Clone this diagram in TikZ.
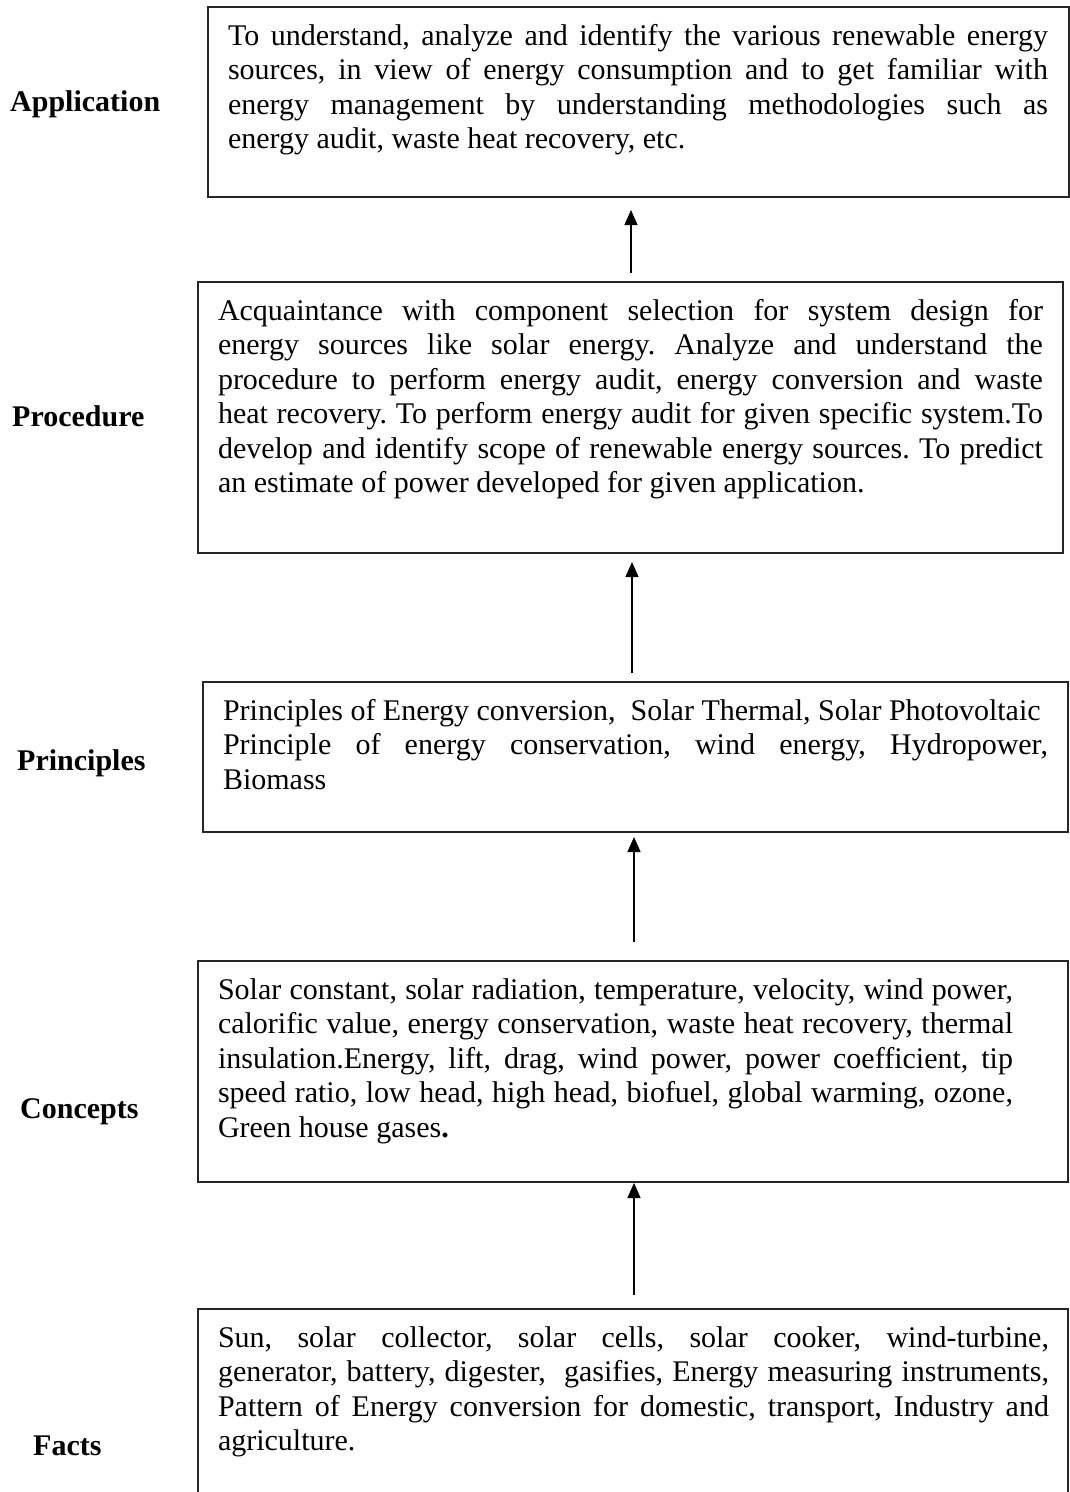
\documentclass[tikz,border=0pt]{standalone}
\usepackage{fontspec}
\setmainfont{Liberation Serif}
\usetikzlibrary{arrows.meta}
\frenchspacing
\newcommand{\fullln}[2]{\hbox to #1{#2}}
\newcommand{\lastln}[2]{\hbox to #1{#2\hfil}}
\begin{document}
\begin{tikzpicture}[x=1pt,y=-1pt,
  box/.style={draw=black!85, line width=1.6pt, inner sep=0pt, outer sep=0pt, anchor=north west},
  body/.style={inner sep=0pt, outer sep=0pt, anchor=base west, font=\fontsize{30}{34.5}\selectfont},
  lbl/.style={inner sep=0pt, anchor=base west, font=\fontsize{30}{34.5}\selectfont\bfseries},
  up/.style={line width=1.4pt, -{Triangle[length=15pt,width=13pt]}}]
\clip (0,0) rectangle (1070,1492);
\fill[white] (0,0) rectangle (1070,1492);

% boxes
\node[box, minimum width=861pt, minimum height=190pt] (app) at (208,7) {};
\node[box, minimum width=865pt, minimum height=271pt] (proc) at (198,282) {};
\node[box, minimum width=865pt, minimum height=150pt] (prin) at (203,682) {};
\node[box, minimum width=870pt, minimum height=221pt] (conc) at (198,961) {};
\node[box, minimum width=870pt, minimum height=260pt] (facts) at (198,1309) {};

% texts
\node[body] (appt) at ([xshift=20pt,yshift=-38pt]app.north west) {\vtop{\baselineskip=34.5pt
\fullln{820pt}{To understand, analyze and identify the various renewable energy}
\fullln{820pt}{sources, in view of energy consumption and to get familiar with}
\fullln{820pt}{energy management by understanding methodologies such as}
\lastln{820pt}{energy audit, waste heat recovery, etc.}}};

\node[body] (proct) at ([xshift=20pt,yshift=-38pt]proc.north west) {\vtop{\baselineskip=34.5pt
\fullln{825pt}{Acquaintance with component selection for system design for}
\fullln{825pt}{energy sources like solar energy. Analyze and understand the}
\fullln{825pt}{procedure to perform energy audit, energy conversion and waste}
\fullln{825pt}{heat recovery. To perform energy audit for given specific system.To}
\fullln{825pt}{develop and identify scope of renewable energy sources. To predict}
\lastln{825pt}{an estimate of power developed for given application.}}};

\node[body] (print) at ([xshift=20pt,yshift=-38pt]prin.north west) {\vtop{\baselineskip=34.5pt
\lastln{825pt}{Principles of Energy conversion,~ Solar Thermal, Solar Photovoltaic}
\fullln{825pt}{Principle of energy conservation, wind energy, Hydropower,}
\lastln{825pt}{Biomass}}};

\node[body] (conct) at ([xshift=20pt,yshift=-38pt]conc.north west) {\vtop{\baselineskip=34.5pt
\fullln{795pt}{Solar constant, solar radiation, temperature, velocity, wind power,}
\fullln{795pt}{calorific value, energy conservation, waste heat recovery, thermal}
\fullln{795pt}{insulation.Energy, lift, drag, wind power, power coefficient, tip}
\fullln{795pt}{speed ratio, low head, high head, biofuel, global warming, ozone,}
\lastln{795pt}{Green house gases\textbf{.}}}};

\node[body] (factst) at ([xshift=20pt,yshift=-38pt]facts.north west) {\vtop{\baselineskip=34.5pt
\fullln{831pt}{Sun, solar collector, solar cells, solar cooker, wind-turbine,}
\fullln{831pt}{generator, battery, digester,~ gasifies, Energy measuring instruments,}
\fullln{831pt}{Pattern of Energy conversion for domestic, transport, Industry and}
\lastln{831pt}{agriculture.}}};

% labels
\node[lbl] (lapp) at (10,111) {Application};
\node[lbl] (lproc) at (12,426) {Procedure};
\node[lbl] (lprin) at (17,770) {Principles};
\node[lbl] (lconc) at (20,1118) {Concepts};
\node[lbl] (lfacts) at (33,1455) {Facts};

% arrows
\coordinate (a1s) at (631,273); \coordinate (a1e) at (631,210);
\coordinate (a2s) at (632,673); \coordinate (a2e) at (632,562);
\coordinate (a3s) at (634,942); \coordinate (a3e) at (634,837);
\coordinate (a4s) at (634,1295); \coordinate (a4e) at (634,1183);
\draw[up] (a1s) -- (a1e);
\draw[up] (a2s) -- (a2e);
\draw[up] (a3s) -- (a3e);
\draw[up] (a4s) -- (a4e);
\end{tikzpicture}
\end{document}
